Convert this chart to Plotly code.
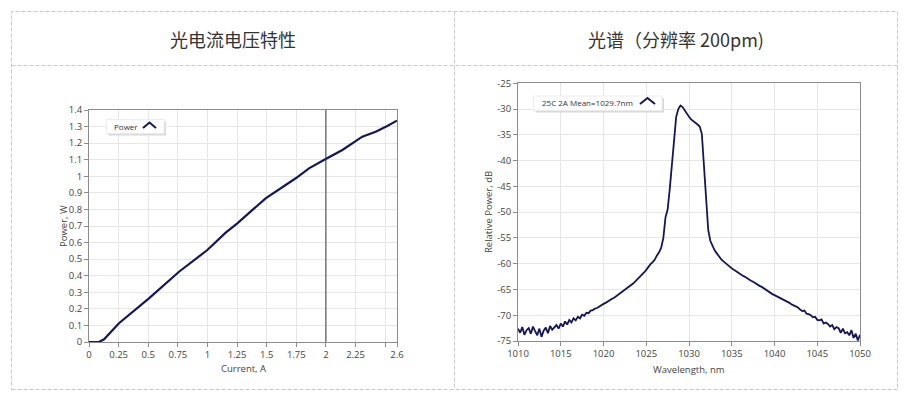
import numpy as np
import plotly.graph_objects as go

# page body has an 8px margin, so the figure is 8px smaller and everything is shifted
OFF = 8
W, H = 913 - OFF, 397 - OFF

# ---------------- data ----------------
current_a = [0.0, 0.084, 0.127, 0.253, 0.506, 0.76, 0.999, 1.154, 1.252, 1.491,
             1.745, 1.857, 1.998, 2.139, 2.307, 2.42, 2.518, 2.6]
power_w = [0.0, 0.0, 0.016, 0.113, 0.263, 0.424, 0.555, 0.66, 0.716, 0.867,
           0.988, 1.048, 1.104, 1.159, 1.239, 1.269, 1.303, 1.336]
cursor_current = 2.0

current_tickvals = [0, 0.25, 0.5, 0.75, 1, 1.25, 1.5, 1.75, 2, 2.25, 2.5, 2.6]
current_ticktext = ["0", "0.25", "0.5", "0.75", "1", "1.25", "1.5", "1.75", "2", "2.25", "", "2.6"]

wavelength_nm = list(np.round(np.arange(1010.0, 1050.001, 0.25), 2))
rel_power_db = [
    -72.6, -73.4, -72.3, -73.8, -72.9, -72.5, -73.6, -72.2,   # 1010-1011.75
    -73.1, -73.9, -72.6, -74.2, -73.0, -72.4, -73.5, -72.1,   # 1012-1013.75
    -72.8, -72.4, -71.9, -72.6, -71.6, -72.2, -71.2, -71.8,   # 1014-1015.75
    -70.9, -71.4, -70.6, -71.0, -70.3, -70.6, -69.9, -70.1,   # 1016-1017.75
    -69.5, -69.6, -69.1, -69.0, -68.7, -68.6, -68.3, -68.0,   # 1018-1019.75
    -67.8, -67.6, -67.3, -67.1, -66.8, -66.6, -66.3, -66.0,   # 1020-1021.75
    -65.7, -65.4, -65.1, -64.8, -64.5, -64.2, -63.8, -63.4,   # 1022-1023.75
    -63.0, -62.6, -62.2, -61.7, -61.2, -60.6, -60.1, -59.7,   # 1024-1025.75
    -59.2, -58.4, -57.8, -56.9, -55.0, -51.0, -49.5, -45.5,   # 1026-1027.75
    -40.5, -35.0, -31.5, -30.0, -29.3, -29.6, -30.3, -30.9,   # 1028-1029.75
    -31.5, -32.0, -32.3, -32.6, -33.0, -33.4, -34.8, -41.0,   # 1030-1031.75
    -48.5, -53.5, -55.6, -56.6, -57.4, -58.0, -58.6, -59.1,   # 1032-1033.75
    -59.5, -59.9, -60.3, -60.6, -60.9, -61.2, -61.5, -61.8,   # 1034-1035.75
    -62.0, -62.3, -62.5, -62.8, -63.0, -63.3, -63.5, -63.8,   # 1036-1037.75
    -64.0, -64.3, -64.5, -64.8, -65.1, -65.3, -65.6, -65.9,   # 1038-1039.75
    -66.1, -66.3, -66.6, -66.8, -67.0, -67.2, -67.4, -67.6,   # 1040-1041.75
    -67.9, -68.1, -68.4, -68.5, -68.9, -69.2, -69.1, -69.7,   # 1042-1043.75
    -69.8, -70.0, -70.4, -70.3, -70.9, -71.0, -70.8, -71.6,   # 1044-1045.75
    -71.4, -71.7, -72.2, -71.9, -72.7, -72.3, -72.5, -73.4,   # 1046-1047.75
    -72.6, -73.5, -73.3, -73.9, -72.9, -74.4, -73.6, -74.9,   # 1048-1049.75
    -73.8,                                                    # 1050
]
assert len(rel_power_db) == len(wavelength_nm)

db_tickvals = [-75, -70, -65, -60, -55, -50, -45, -40, -35, -30, -25]
db_ticktext = ["-75", "-70", "-65", "-60", "-55", "-50", "-45", "-40", "-35", "-30", "-25"]

title_left = "光电流电压特性"
title_right = "光谱（分辨率 200pm)"
legend_left = "Power"
legend_right = "25C 2A Mean=1029.7nm"

# ---------------- helpers (reference pixel -> paper fraction) ----------------
def px(x):
    return (x - OFF) / W

def py(y):
    return 1 - (y - OFF) / H

NAVY = "#15155a"
TICKFONT = dict(family="Open Sans, Noto Sans, sans-serif", size=9.5, color="#444444")

fig = go.Figure()
fig.add_trace(go.Scatter(x=current_a, y=power_w, mode="lines",
                         line=dict(color=NAVY, width=2.2), xaxis="x", yaxis="y",
                         showlegend=False, hoverinfo="skip"))
fig.add_trace(go.Scatter(x=wavelength_nm, y=rel_power_db, mode="lines",
                         line=dict(color=NAVY, width=1.8), xaxis="x2", yaxis="y2",
                         showlegend=False, hoverinfo="skip"))

axis_common = dict(showgrid=True, gridcolor="#e6e6e6", gridwidth=1,
                   showline=True, linecolor="#8c8c8c", linewidth=1, mirror=True,
                   ticks="outside", ticklen=4, tickcolor="#8c8c8c",
                   tickfont=TICKFONT, zeroline=False, fixedrange=True,
                   automargin=False)

fig.update_layout(
    template="none",
    width=W, height=H, autosize=False,
    margin=dict(l=0, r=0, t=0, b=0, pad=0, autoexpand=False),
    paper_bgcolor="white", plot_bgcolor="white",
    showlegend=False,
    xaxis=dict(axis_common, domain=[px(89), px(397)], range=[0, 2.6],
               tickmode="array", tickvals=current_tickvals, ticktext=current_ticktext,
               anchor="y"),
    yaxis=dict(axis_common, domain=[py(342), py(110)], range=[0, 1.4],
               tick0=0, dtick=0.1, anchor="x"),
    xaxis2=dict(axis_common, domain=[px(518), px(860)], range=[1010, 1050],
                tick0=1010, dtick=5, anchor="y2"),
    yaxis2=dict(axis_common, domain=[py(341), py(83.3)], range=[-75, -25],
                tickmode="array", tickvals=db_tickvals, ticktext=db_ticktext,
                anchor="x2"),
)

shapes = []
# table borders (dashed)
border = dict(color="#c8c8c8", width=1, dash="4px,2px")
shapes.append(dict(type="rect", xref="paper", yref="paper",
                   x0=px(11.5), x1=px(897.5), y0=py(389.5), y1=py(11.5), line=border))
shapes.append(dict(type="line", xref="paper", yref="paper",
                   x0=px(11.5), x1=px(897.5), y0=py(65.5), y1=py(65.5), line=border))
shapes.append(dict(type="line", xref="paper", yref="paper",
                   x0=px(454.5), x1=px(454.5), y0=py(11.5), y1=py(389.5), line=border))

# cursor line on left chart
shapes.append(dict(type="line", xref="x", yref="y domain", x0=cursor_current, x1=cursor_current,
                   y0=0, y1=1, line=dict(color="#3a3a3a", width=1)))

# legend boxes with shadow
def legend_box(x0, y0, x1, y1):
    shapes.append(dict(type="rect", xref="paper", yref="paper",
                       x0=px(x0 + 2), x1=px(x1 + 2), y0=py(y1 + 2), y1=py(y0 + 2),
                       line=dict(width=0), fillcolor="#dadada", layer="above"))
    shapes.append(dict(type="rect", xref="paper", yref="paper",
                       x0=px(x0), x1=px(x1), y0=py(y1), y1=py(y0),
                       line=dict(color="#ececec", width=1), fillcolor="white", layer="above"))

def caret(xl, xm, xr, ytop, ybot):
    path = "M {} {} L {} {} L {} {}".format(px(xl), py(ybot), px(xm), py(ytop), px(xr), py(ybot))
    shapes.append(dict(type="path", xref="paper", yref="paper", path=path,
                       line=dict(color=NAVY, width=2), layer="above"))

legend_box(106.5, 119.5, 164, 133.5)
caret(143, 149.5, 156, 122.5, 128)
legend_box(533.5, 96, 662, 110.5)
caret(640, 647.5, 655, 98, 104)

fig.update_layout(shapes=shapes)

ann = []
TITLEFONT = dict(family="Noto Sans CJK SC", size=18, color="#333333")
ann.append(dict(text=title_left, x=px(233), y=py(39), xref="paper", yref="paper",
                showarrow=False, font=TITLEFONT, xanchor="center", yanchor="middle"))
ann.append(dict(text=title_right, x=px(676), y=py(39), xref="paper", yref="paper",
                showarrow=False, font=TITLEFONT, xanchor="center", yanchor="middle"))

LABELFONT = dict(family="Open Sans, Noto Sans, sans-serif", size=9.5, color="#444444")
ann.append(dict(text="Current, A", x=px(243), y=py(368), xref="paper", yref="paper",
                showarrow=False, font=LABELFONT, xanchor="center", yanchor="middle", borderpad=0))
ann.append(dict(text="Power, W", x=px(63), y=py(226), xref="paper", yref="paper",
                showarrow=False, font=LABELFONT, textangle=-90, xanchor="center", yanchor="middle", borderpad=0))
ann.append(dict(text="Wavelength, nm", x=px(689), y=py(369), xref="paper", yref="paper",
                showarrow=False, font=LABELFONT, xanchor="center", yanchor="middle", borderpad=0))
ann.append(dict(text="Relative Power, dB", x=px(488), y=py(212), xref="paper", yref="paper",
                showarrow=False, font=LABELFONT, textangle=-90, xanchor="center", yanchor="middle", borderpad=0))

LEGFONT = dict(family="Open Sans, Noto Sans, sans-serif", size=8, color="#333333")
ann.append(dict(text=legend_left, x=px(125.5), y=py(126.5), xref="paper", yref="paper",
                showarrow=False, font=LEGFONT, xanchor="center", yanchor="middle"))
ann.append(dict(text=legend_right, x=px(587), y=py(103), xref="paper", yref="paper",
                showarrow=False, font=LEGFONT, xanchor="center", yanchor="middle"))

fig.update_layout(annotations=ann)

fig.write_html("out.html")
